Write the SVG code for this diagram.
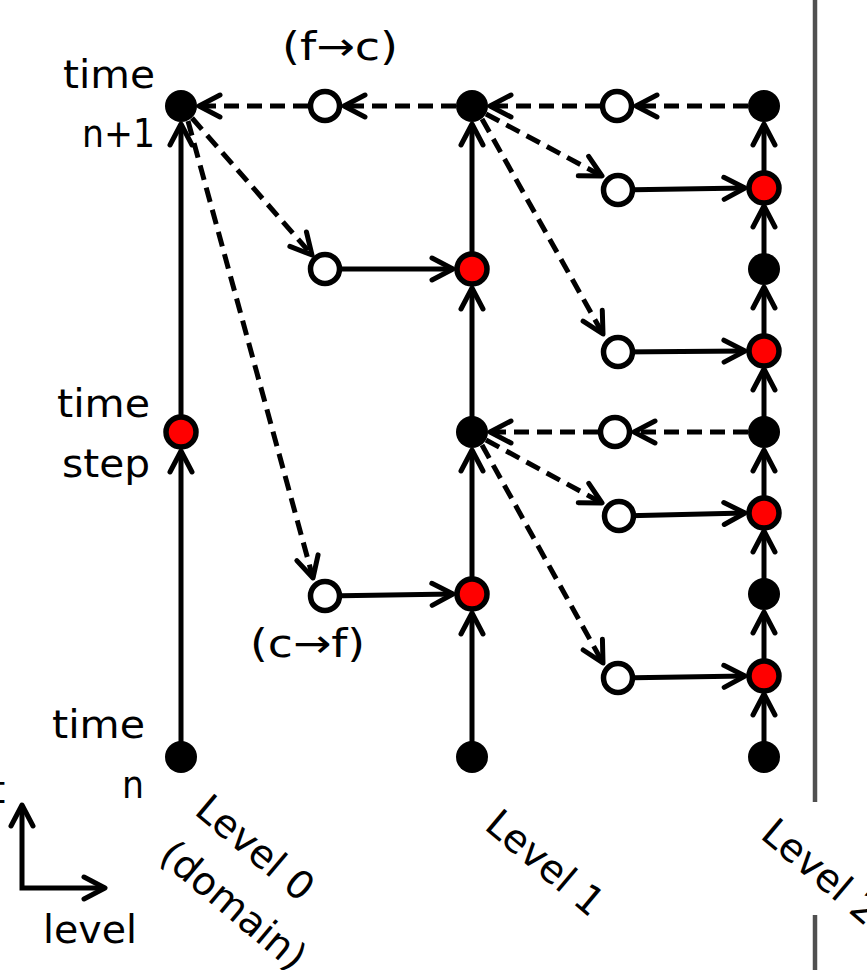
<svg xmlns="http://www.w3.org/2000/svg" width="867" height="970" viewBox="0 0 867 970">
<defs>
<marker id="ah" markerUnits="userSpaceOnUse" orient="auto" overflow="visible" refX="0" refY="0" markerWidth="1" markerHeight="1">
<path d="M-21,-11 L0,0 L-21,11" fill="none" stroke="#000" stroke-width="5" stroke-linecap="round" stroke-linejoin="round" stroke-dasharray="none"/>
</marker>
<marker id="ahs" markerUnits="userSpaceOnUse" orient="auto-start-reverse" overflow="visible" refX="0" refY="0" markerWidth="1" markerHeight="1">
<path d="M-21,-11 L0,0 L-21,11" fill="none" stroke="#000" stroke-width="5" stroke-linecap="round" stroke-linejoin="round"/>
</marker>
</defs>
<style>
.s{fill:none;stroke:#000;stroke-width:5;marker-end:url(#ah)}
.d{fill:none;stroke:#000;stroke-width:5;stroke-dasharray:15 8;marker-end:url(#ah)}
.b{fill:#000}
.r{fill:#f00;stroke:#000;stroke-width:5.5}
.o{fill:#fff;stroke:#000;stroke-width:5.5}
.t{font-family:"DejaVu Sans",sans-serif;font-size:39px;fill:#000}
.lv{font-family:"DejaVu Sans",sans-serif;font-size:39px;fill:#000}
</style>
<rect width="867" height="970" fill="#fff"/>
<g id="divider" stroke="#505050" stroke-width="4.5">
<line x1="815" y1="0" x2="815" y2="802"/>
<line x1="815" y1="915" x2="815" y2="970"/>
</g>
<g id="connectors">
<!-- level 0 vertical -->
<path class="s" d="M181,757 L181,451"/>
<path class="s" d="M181,432 L181,124"/>
<!-- level 1 vertical -->
<path class="s" d="M472,757 L472,613"/>
<path class="s" d="M472,594 L472,450"/>
<path class="s" d="M472,432 L472,288"/>
<path class="s" d="M472,269 L472,124"/>
<!-- level 2 vertical -->
<path class="s" d="M764,757 L764,694"/>
<path class="s" d="M764,676 L764,612"/>
<path class="s" d="M764,594 L764,531"/>
<path class="s" d="M764,513 L764,450"/>
<path class="s" d="M764,432 L764,369"/>
<path class="s" d="M764,351 L764,287"/>
<path class="s" d="M764,269 L764,206"/>
<path class="s" d="M764,188 L764,124"/>
<!-- solid horizontal -->
<path class="s" d="M325,269 L453,269"/>
<path class="s" d="M325,596 L453,594"/>
<path class="s" d="M618,190 L745,188"/>
<path class="s" d="M618,352 L745,351"/>
<path class="s" d="M619,516 L745,513"/>
<path class="s" d="M618,678 L745,676"/>
<!-- dashed horizontal (fine to coarse) -->
<path class="d" d="M748,106 L636,106"/>
<path class="d" d="M600,106 L490,106"/>
<path class="d" d="M456,106 L344,106"/>
<path class="d" d="M308,106 L199,106"/>
<path class="d" d="M748,432 L634,432"/>
<path class="d" d="M598,432 L490,432"/>
<!-- dashed diagonal (coarse to fine) -->
<path class="d" d="M192,118 L312,255"/>
<path class="d" d="M188,121 L313,578"/>
<path class="d" d="M486,114 L602,176"/>
<path class="d" d="M482,119 L603,334"/>
<path class="d" d="M486,440 L602,503"/>
<path class="d" d="M482,445 L603,663"/>
<!-- axis -->
<path d="M22,805 L22,888 L105,888" fill="none" stroke="#000" stroke-width="5" stroke-linejoin="miter" marker-start="url(#ahs)" marker-end="url(#ahs)"/>
</g>
<g id="level0">
<circle id="n0a" class="b" cx="181" cy="106" r="16"/>
<circle id="n0b" class="r" cx="181" cy="432" r="15"/>
<circle id="n0c" class="b" cx="181" cy="757" r="16"/>
</g>
<g id="level1">
<circle id="n1a" class="b" cx="472" cy="106" r="16"/>
<circle id="n1b" class="r" cx="472" cy="269" r="15"/>
<circle id="n1c" class="b" cx="472" cy="432" r="16"/>
<circle id="n1d" class="r" cx="472" cy="594" r="15"/>
<circle id="n1e" class="b" cx="472" cy="757" r="16"/>
</g>
<g id="level2">
<circle id="n2a" class="b" cx="764" cy="106" r="16"/>
<circle id="n2b" class="r" cx="764" cy="188" r="15"/>
<circle id="n2c" class="b" cx="764" cy="269" r="16"/>
<circle id="n2d" class="r" cx="764" cy="351" r="15"/>
<circle id="n2e" class="b" cx="764" cy="432" r="16"/>
<circle id="n2f" class="r" cx="764" cy="513" r="15"/>
<circle id="n2g" class="b" cx="764" cy="594" r="16"/>
<circle id="n2h" class="r" cx="764" cy="676" r="15"/>
<circle id="n2i" class="b" cx="764" cy="757" r="16"/>
</g>
<g id="ghosts">
<circle id="g1" class="o" cx="325" cy="106" r="14.5"/>
<circle id="g2" class="o" cx="617" cy="106" r="14.5"/>
<circle id="g3" class="o" cx="615" cy="432" r="14.5"/>
<circle id="g4" class="o" cx="325" cy="269" r="14.5"/>
<circle id="g5" class="o" cx="325" cy="596" r="14.5"/>
<circle id="g6" class="o" cx="618" cy="190" r="14.5"/>
<circle id="g7" class="o" cx="618" cy="352" r="14.5"/>
<circle id="g8" class="o" cx="619" cy="516" r="14.5"/>
<circle id="g9" class="o" cx="618" cy="678" r="14.5"/>
</g>
<g id="labels">
<text class="t" x="63" y="88" textLength="92" lengthAdjust="spacingAndGlyphs">time</text>
<text class="t" x="82" y="147" textLength="73" lengthAdjust="spacingAndGlyphs">n+1</text>
<text class="t" x="282" y="60" textLength="116" lengthAdjust="spacingAndGlyphs">(f→c)</text>
<text class="t" x="57" y="417" textLength="93" lengthAdjust="spacingAndGlyphs">time</text>
<text class="t" x="62" y="477" textLength="88" lengthAdjust="spacingAndGlyphs">step</text>
<text class="t" x="250" y="657" textLength="115" lengthAdjust="spacingAndGlyphs">(c→f)</text>
<text class="t" x="52" y="738" textLength="93" lengthAdjust="spacingAndGlyphs">time</text>
<text class="t" x="122" y="798" textLength="22" lengthAdjust="spacingAndGlyphs">n</text>
<text class="t" x="-10" y="803">t</text>
<text class="t" x="43" y="943" textLength="94" lengthAdjust="spacingAndGlyphs">level</text>
<text class="lv" transform="translate(193,813) rotate(40)"><tspan x="0" y="0">Level 0</tspan><tspan x="2" y="58">(domain)</tspan></text>
<text class="lv" transform="translate(483,828) rotate(40)">Level 1</text>
<text class="lv" transform="translate(759,837) rotate(40)">Level 2</text>
</g>
</svg>
